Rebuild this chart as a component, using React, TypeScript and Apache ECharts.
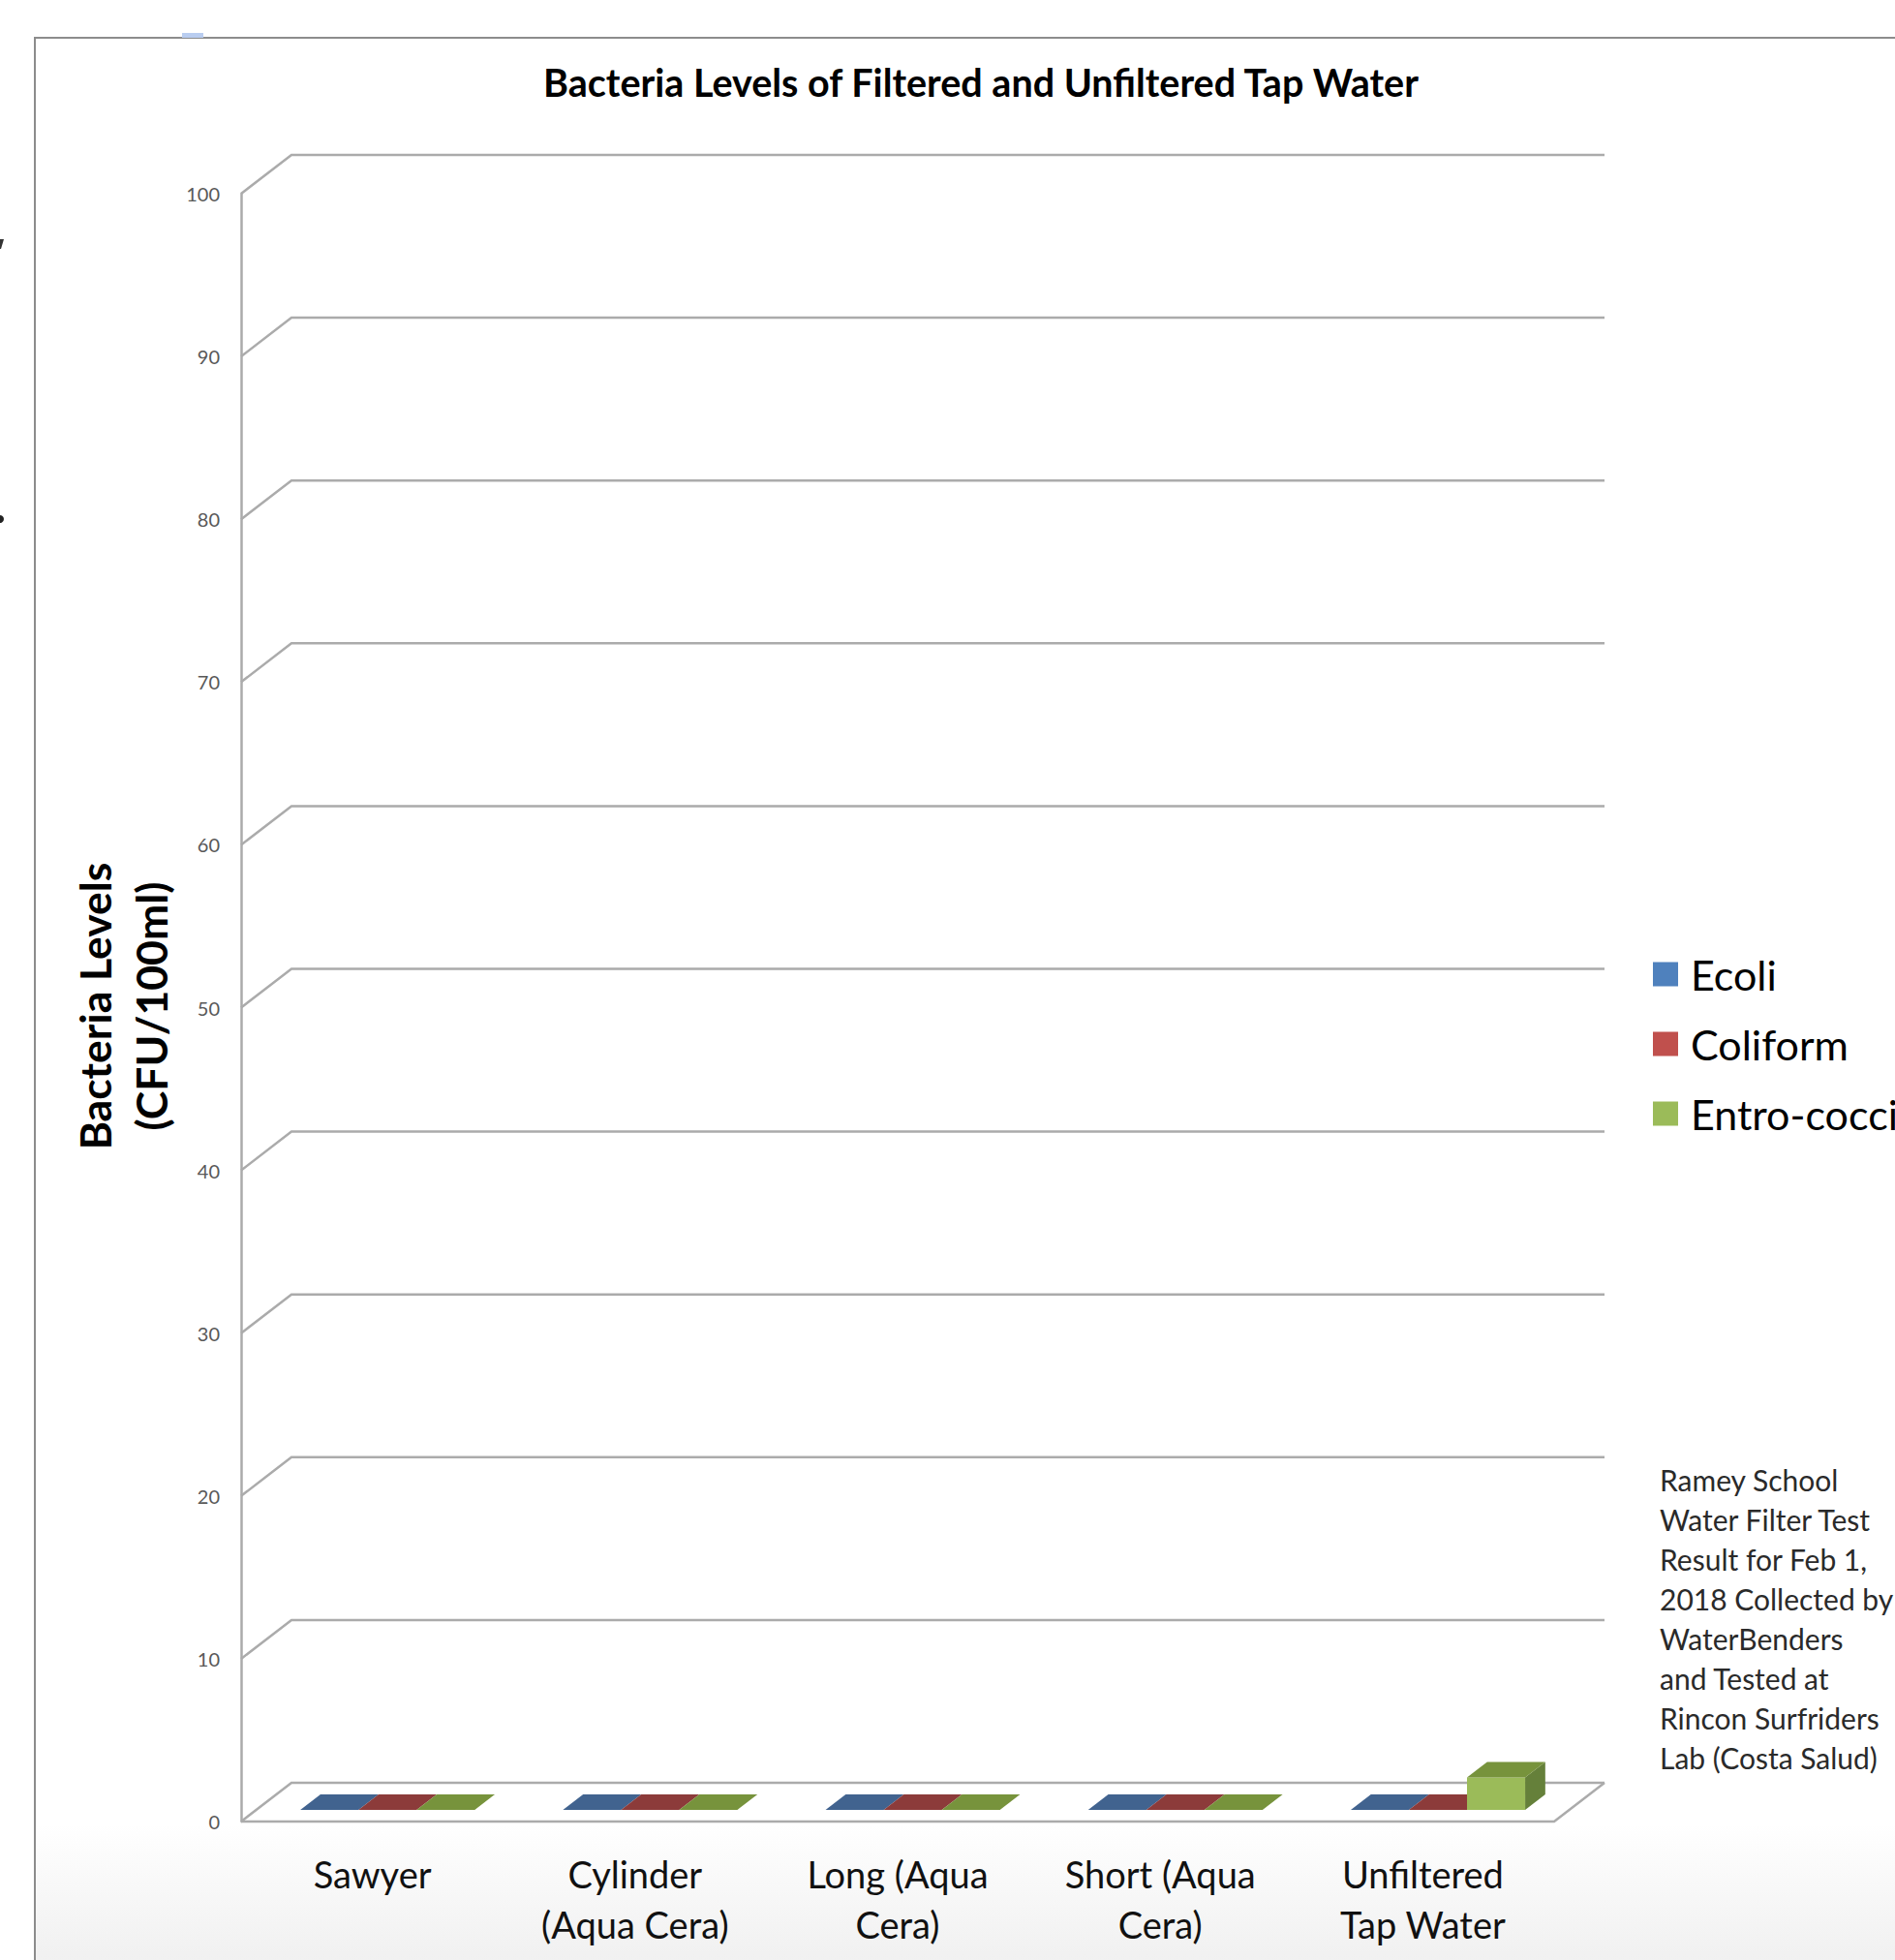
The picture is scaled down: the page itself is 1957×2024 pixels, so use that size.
import React, { useEffect, useRef } from "react";
import * as echarts from "echarts";

const categories = [
  "Sawyer",
  "Cylinder\n(Aqua Cera)",
  "Long (Aqua\nCera)",
  "Short (Aqua\nCera)",
  "Unfiltered\nTap Water",
];
const seriesNames = ["Ecoli", "Coliform", "Entro-cocci"];
const ecoli = [0, 0, 0, 0, 0];
const coliform = [0, 0, 0, 0, 0];
const entrococci = [0, 0, 0, 0, 2];
const yTicks = [0, 10, 20, 30, 40, 50, 60, 70, 80, 90, 100];
const titleText = "Bacteria Levels of Filtered and Unfiltered Tap Water";
const yAxisTitle = "Bacteria Levels\n(CFU/100ml)";
const noteText =
  "Ramey School\nWater Filter Test\nResult for Feb 1,\n2018 Collected by\nWaterBenders\nand Tested at\nRincon Surfriders\nLab (Costa Salud)";

const FONT = "Lato, 'Open Sans', sans-serif";
const DX = 52;
const DY = -40;
const FRONT = ["#4F81BD", "#C0504D", "#9BBB59"];
const TOPC = ["#41638F", "#8C3B3A", "#77933C"];
const SIDE = ["#3A5A85", "#7D3432", "#65803A"];
const GRID_COLOR = "#ABABAB";

export default function App() {
  const ref = useRef<HTMLDivElement>(null);
  useEffect(() => {
    document.body.style.margin = "0";
    document.body.style.overflow = "hidden";
    const chart = echarts.init(ref.current!, undefined, { renderer: "svg" });

    const barSeries = (name: string, values: number[], j: number) => ({
      name,
      type: "custom",
      coordinateSystem: "cartesian2d",
      itemStyle: { color: FRONT[j] },
      clip: false,
      z: 5,
      encode: { x: 0, y: 1 },
      data: values.map((v, i) => [i, v]),
      renderItem: (params: any, api: any) => {
        const idx = api.value(0);
        const v = api.value(1);
        const base = api.coord([idx, 0]);
        const top = api.coord([idx, v]);
        const band = api.size([1, 0])[0];
        const group = band * 0.664;
        const bw = group / 3;
        const x0 = base[0] - group / 2 + j * bw + 0.3 * DX;
        const yb = base[1] + 0.3 * DY;
        const yt = top[1] + 0.3 * DY;
        const ddx = 0.4 * DX;
        const ddy = 0.4 * DY;
        const children: any[] = [];
        if (yb - yt > 0.5) {
          children.push({
            type: "polygon",
            shape: {
              points: [
                [x0 + bw, yt],
                [x0 + bw + ddx, yt + ddy],
                [x0 + bw + ddx, yb + ddy],
                [x0 + bw, yb],
              ],
            },
            style: { fill: SIDE[j] },
          });
          children.push({
            type: "rect",
            shape: { x: x0, y: yt, width: bw, height: yb - yt },
            style: { fill: FRONT[j] },
          });
        }
        children.push({
          type: "polygon",
          shape: {
            points: [
              [x0, yt],
              [x0 + bw, yt],
              [x0 + bw + ddx, yt + ddy],
              [x0 + ddx, yt + ddy],
            ],
          },
          style: { fill: TOPC[j] },
        });
        return { type: "group", children };
      },
    });

    const option: any = {
      animation: false,
      backgroundColor: "#ffffff",
      grid: { left: 249, right: 352, top: 200, bottom: 143, containLabel: false },
      xAxis: {
        type: "category",
        data: categories,
        axisLine: { show: false },
        axisTick: { show: false },
        splitLine: { show: false },
        axisLabel: {
          interval: 0,
          fontFamily: FONT,
          fontSize: 38,
          lineHeight: 52,
          color: "#111111",
          margin: 28,
        },
      },
      yAxis: {
        type: "value",
        min: 0,
        max: 100,
        interval: 10,
        axisLine: { show: true, lineStyle: { color: GRID_COLOR, width: 2.5 } },
        axisTick: { show: false },
        splitLine: { show: false },
        axisLabel: { fontFamily: FONT, fontSize: 20, color: "#595959", margin: 22 },
      },
      legend: {
        orient: "vertical",
        left: 1707,
        top: 980,
        padding: 0,
        icon: "rect",
        itemWidth: 26,
        itemHeight: 25,
        itemGap: 20,
        data: seriesNames.map((n, j) => ({ name: n, itemStyle: { color: FRONT[j] } })),
        textStyle: {
          fontFamily: FONT,
          fontSize: 43,
          lineHeight: 52,
          color: "#000000",
          padding: [0, 0, 0, 8],
        },
      },
      graphic: [
        {
          type: "rect",
          z: -10,
          silent: true,
          shape: { x: 36, y: 39, width: 2000, height: 2050 },
          style: {
            fill: new echarts.graphic.LinearGradient(0, 0, 0, 1, [
              { offset: 0, color: "#ffffff" },
              { offset: 0.9, color: "#ffffff" },
              { offset: 0.965, color: "#f1f1f1" },
              { offset: 1, color: "#eeeeee" },
            ]),
            stroke: "#8c8c8c",
            lineWidth: 2,
          },
        },
        {
          type: "rect",
          z: -9,
          shape: { x: 188, y: 34, width: 22, height: 5 },
          style: { fill: "#b9cdf0" },
        },
        { type: "circle", shape: { cx: 0, cy: 536, r: 4 }, style: { fill: "#222" } },
        {
          type: "polygon",
          shape: { points: [[0, 247], [4, 247], [1, 257], [0, 257]] },
          style: { fill: "#333" },
        },
        {
          type: "text",
          x: 1013,
          y: 84,
          style: {
            text: titleText,
            fontFamily: FONT,
            fontWeight: "bold",
            fontSize: 39.5,
            fill: "#000000",
            align: "center",
            verticalAlign: "middle",
          },
        },
        {
          type: "text",
          x: 126,
          y: 1039,
          rotation: Math.PI / 2,
          style: {
            text: yAxisTitle,
            fontFamily: FONT,
            fontWeight: "bold",
            fontSize: 44.5,
            lineHeight: 58,
            fill: "#000000",
            align: "center",
            verticalAlign: "middle",
          },
        },
        {
          type: "text",
          x: 1714,
          y: 1507,
          style: {
            text: noteText,
            fontFamily: FONT,
            fontSize: 30,
            lineHeight: 41,
            fill: "#2a2a2a",
            align: "left",
            verticalAlign: "top",
          },
        },
      ],
      series: [
        {
          name: "walls",
          type: "custom",
          coordinateSystem: "cartesian2d",
          clip: false,
          silent: true,
          z: 1,
          encode: { x: 0, y: 1 },
          data: yTicks.map((v) => [0, v]),
          renderItem: (params: any, api: any) => {
            const cs = params.coordSys;
            const v = api.value(1);
            const y = api.coord([0, v])[1];
            const x0 = cs.x;
            const x1 = cs.x + cs.width;
            const style = { stroke: GRID_COLOR, lineWidth: 2.5, fill: "none" };
            const children: any[] = [
              {
                type: "polyline",
                shape: { points: [[x0, y], [x0 + DX, y + DY], [x1 + DX, y + DY]] },
                style,
              },
            ];
            if (v === 0) {
              children.push({
                type: "polyline",
                shape: { points: [[x0, y], [x1, y], [x1 + DX, y + DY]] },
                style,
              });
            }
            return { type: "group", children };
          },
        },
        barSeries(seriesNames[0], ecoli, 0),
        barSeries(seriesNames[1], coliform, 1),
        barSeries(seriesNames[2], entrococci, 2),
      ],
    };
    chart.setOption(option);
    return () => chart.dispose();
  }, []);
  return <div ref={ref} style={{ width: 1957, height: 2024 }} />;
}
